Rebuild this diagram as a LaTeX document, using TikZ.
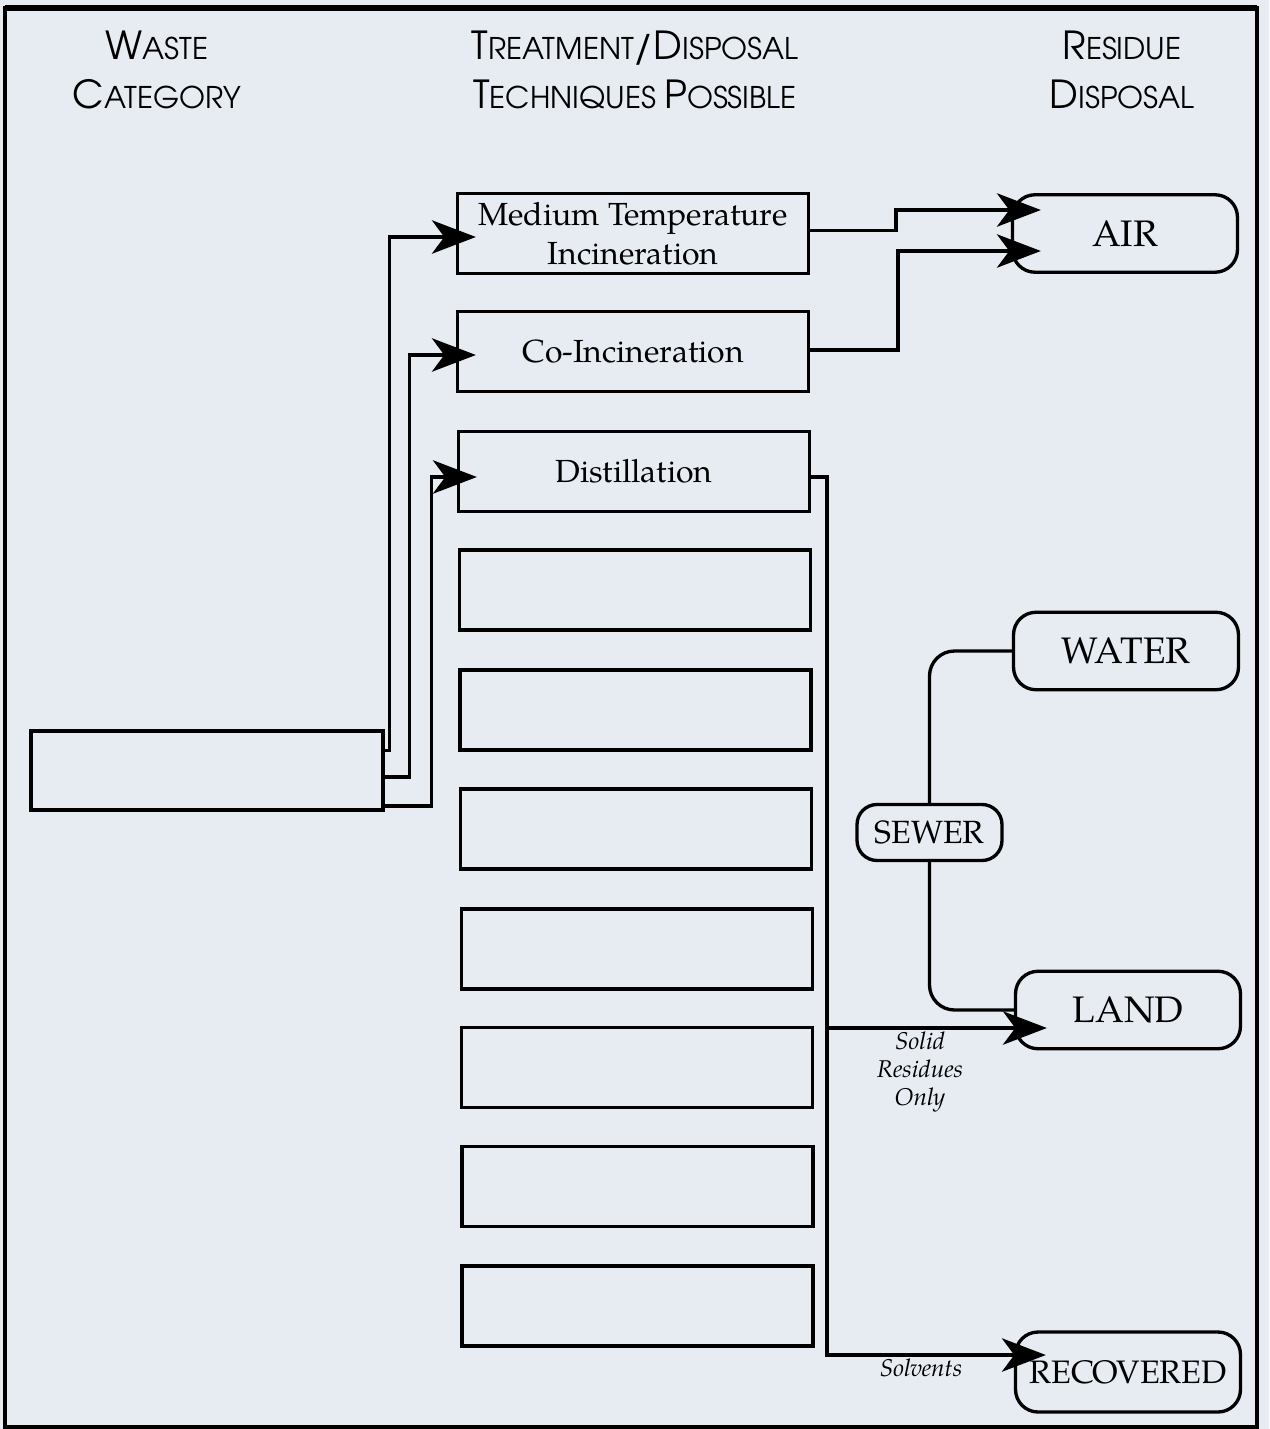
\documentclass[tikz,border=0pt]{standalone}
\usepackage{fontspec}
\setmainfont{TeX Gyre Pagella}
\newfontfamily\hdrfont{TeX Gyre Adventor}
\usetikzlibrary{arrows.meta}
\definecolor{paper}{HTML}{E6ECF2}
\newcommand\bigc[1]{{\fontsize{22}{28}\selectfont #1}}
\begin{document}
\begin{tikzpicture}[
      x=0.02cm, y=-0.02cm,
      hdr/.style={align=center, font=\hdrfont\fontsize{17}{28}\selectfont},
      tech/.style={rectangle, draw=black, fill=paper, line width=1.9pt, minimum width=7.02cm, minimum height=1.6cm, align=center, inner sep=0pt, font=\fontsize{18.2}{22}\selectfont},
      waste/.style={rectangle, draw=black, fill=paper, line width=1.9pt, minimum width=7.04cm, minimum height=1.58cm},
      sink/.style={rectangle, draw=black, fill=paper, line width=1.9pt, rounded corners=0.45cm, minimum width=4.5cm, minimum height=1.55cm, font=\fontsize{21}{24}\selectfont},
      lbl/.style={align=center, font=\itshape\fontsize{13.8}{16}\selectfont},
      link/.style={line width=1.9pt},
      arr/.style={-{Stealth[length=25pt, width=19pt, inset=7pt]}, line width=1.9pt}
    ]

    \fill[paper] (0,0) rectangle (1269,1429);
    \useasboundingbox (0,0) rectangle (1269,1429);
    \draw[line width=1.9pt] (5,8) rectangle (1257,1427);
    \draw[line width=3pt] (5,8) -- (1257,8);

    \node[hdr] (hwaste) at (157,70) {\bigc{W}ASTE\\\bigc{C}ATEGORY};
    \node[hdr] (htech)  at (635,70) {\bigc{T}REATMENT\bigc{/D}ISPOSAL\\\bigc{T}ECHNIQUES \bigc{P}OSSIBLE};
    \node[hdr] (hres)   at (1122,70) {\bigc{R}ESIDUE\\\bigc{D}ISPOSAL};

    \node[waste] (cat) at (207,770.5) {};

    \node[tech] (mti)    at (633,233.5) {Medium Temperature\\Incineration};
    \node[tech] (coinc)  at (633,351.5) {Co-Incineration};
    \node[tech] (distil) at (634,471.5) {Distillation};
    \node[tech] (blank4)  at (635,590) {};
    \node[tech] (blank5)  at (635.5,710) {};
    \node[tech] (blank6)  at (636,829) {};
    \node[tech] (blank7)  at (637,949) {};
    \node[tech] (blank8)  at (637,1067.5) {};
    \node[tech] (blank9)  at (637.5,1186.5) {};
    \node[tech] (blank10) at (637.5,1306) {};

    \node[sink] (air)   at (1125,233.5) {AIR};
    \node[sink] (water) at (1126,651) {WATER};
    \node[sink, minimum width=2.9cm, minimum height=1.12cm, rounded corners=0.4cm, font=\fontsize{18.3}{20}\selectfont] (sewer) at (929.5,832.5) {SEWER};
    \node[sink] (land)  at (1128,1010) {LAND};
    \node[sink, minimum height=1.6cm, font=\fontsize{18.5}{20}\selectfont] (recov) at (1128,1372) {RECOVERED};

    \node[lbl] (solid)    at (920,1072) {Solid\\Residues\\Only};
    \node[lbl] (solvents) at (921,1368) {Solvents};

    \draw[arr] ([yshift=0.4cm]cat.east) -- ++(5,0) |- ([xshift=0.4cm,yshift=-0.07cm]mti.west);
    \draw[arr] ([yshift=-0.13cm]cat.east) -- ++(25,0) |- ([xshift=0.4cm,yshift=-0.07cm]coinc.west);
    \draw[arr] ([yshift=-0.71cm]cat.east) -- ++(47,0) |- ([xshift=0.4cm,yshift=-0.11cm]distil.west);

    \draw[arr] ([yshift=0.06cm]mti.east) -- ++(86,0) |- ([xshift=0.6cm,yshift=0.47cm]air.west);
    \draw[arr] ([yshift=0.03cm]coinc.east) -- ++(88,0) |- ([xshift=0.6cm,yshift=-0.35cm]air.west);

    \coordinate (trunk) at ([xshift=0.32cm,yshift=-0.11cm]distil.east);
    \coordinate (landin) at ([xshift=0.66cm,yshift=-0.36cm]land.west);
    \draw[arr] ([yshift=-0.11cm]distil.east) -- (trunk) |- ([xshift=0.64cm,yshift=0.34cm]recov.west);
    \draw[arr] (trunk |- landin) -- (landin);

    \draw[link, rounded corners=0.5cm] (water.west) -| (sewer.north);
    \draw[link, rounded corners=0.5cm] (sewer.south) |- (land.west);

  \end{tikzpicture}
\end{document}
